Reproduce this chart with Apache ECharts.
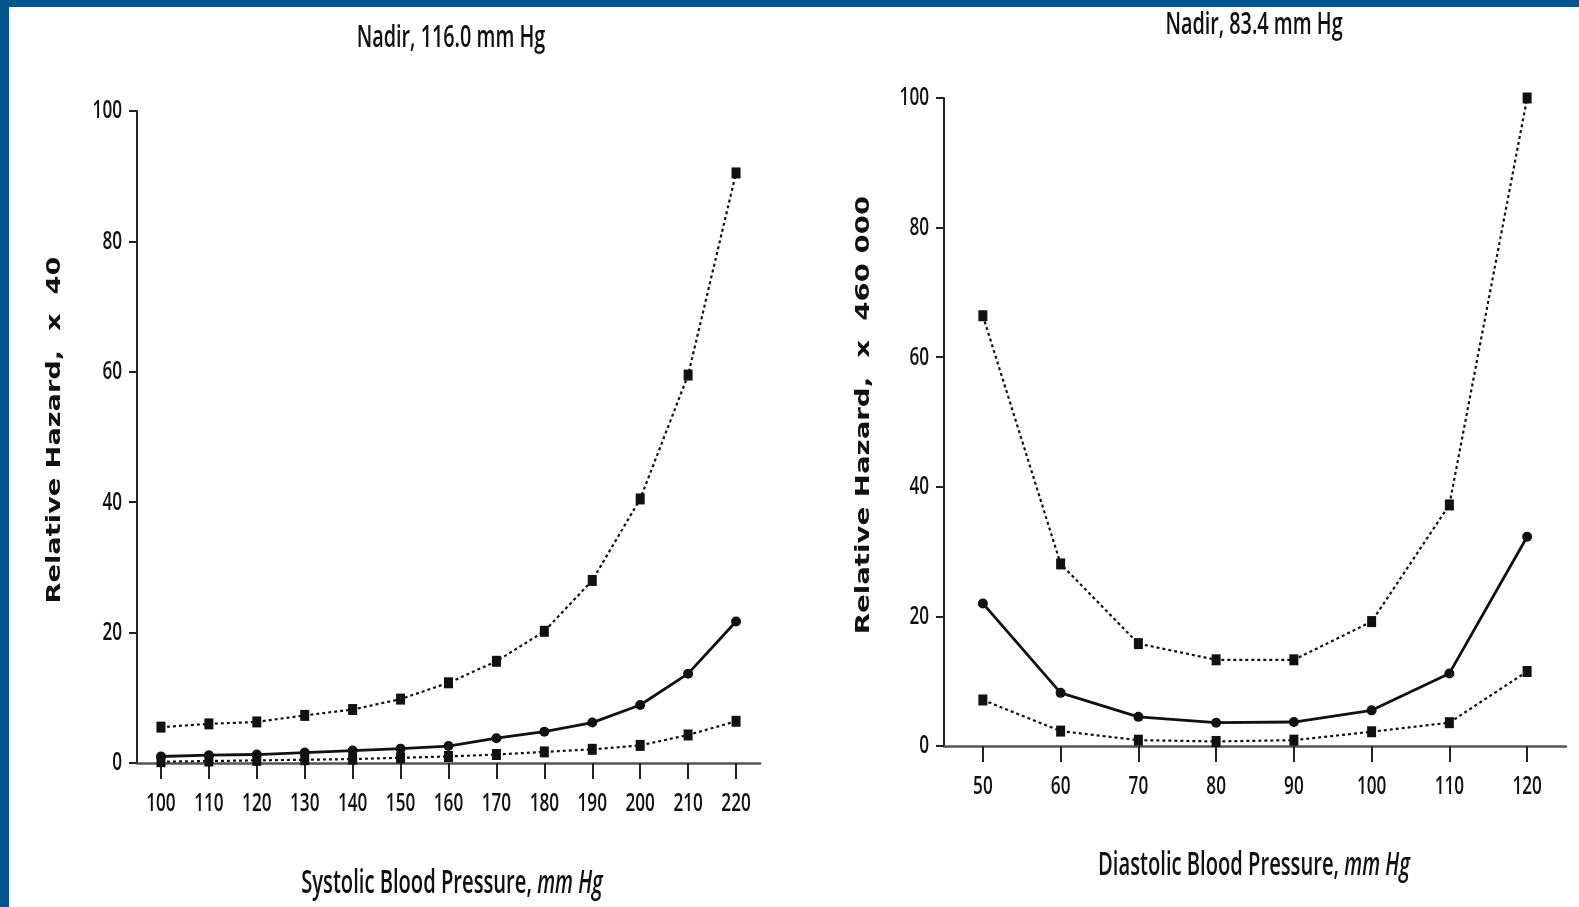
<!DOCTYPE html>
<html>
<head>
<meta charset="utf-8">
<script src="https://cdn.jsdelivr.net/npm/echarts@6/dist/echarts.min.js"></script>
<style>
html,body{margin:0;padding:0;background:#fff;}
#frame{position:absolute;left:0;top:0;width:1579px;height:907px;}
#topbar{position:absolute;left:0;top:0;width:1579px;height:7px;background:#005591;z-index:5;}
#leftbar{position:absolute;left:0;top:0;width:9px;height:907px;background:#005591;z-index:5;}
#chart{position:absolute;left:0;top:0;width:1579px;height:907px;}
</style>
</head>
<body>
<div id="frame">
<div id="chart"></div>
<div id="topbar"></div>
<div id="leftbar"></div>
</div>
<script>
// ---- data ----
const sysX = [100,110,120,130,140,150,160,170,180,190,200,210,220];
const sysUpper = [5.5,6.0,6.3,7.3,8.2,9.8,12.3,15.6,20.2,28.0,40.5,59.5,90.5];
const sysEst   = [1.0,1.2,1.3,1.6,1.9,2.2,2.6,3.8,4.8,6.2,8.9,13.7,21.7];
const sysLower = [0.2,0.3,0.4,0.5,0.6,0.8,1.0,1.3,1.7,2.1,2.7,4.3,6.4];

const diaX = [50,60,70,80,90,100,110,120];
const diaUpper = [66.4,28.1,15.8,13.3,13.3,19.2,37.2,100];
const diaEst   = [22.0,8.2,4.5,3.6,3.7,5.5,11.2,32.3];
const diaLower = [7.1,2.3,0.9,0.7,0.9,2.2,3.6,11.5];

const yTicks = [0,20,40,60,80,100];

const titleLeft = 'Nadir, 116.0 mm Hg';
const titleRight = 'Nadir, 83.4 mm Hg';
const xNameLeft = 'Systolic Blood Pressure, ';
const xNameRight = 'Diastolic Blood Pressure, ';
const xNameUnit = 'mm Hg';
const yNameLeft = 'Relative Hazard,  x  40';
const yNameRight = 'Relative Hazard,  x  460 000';

const condFont = "'Open Sans','Noto Sans','DejaVu Sans',sans-serif";
const boldFont = "'DejaVu Sans','Verdana',sans-serif";

function pairs(xs, ys){ return xs.map((x,i)=>[x, ys[i]]); }

function mkSeries(idx, xs, up, est, lo){
  const dash = {color:'#111', width:2.2, type:[3,3]};
  return [
    {type:'line', xAxisIndex:idx, yAxisIndex:idx, data:pairs(xs,up), symbol:'rect', symbolSize:[9,11], lineStyle:dash, itemStyle:{color:'#111'}, z:3},
    {type:'line', xAxisIndex:idx, yAxisIndex:idx, data:pairs(xs,est), symbol:'circle', symbolSize:10, lineStyle:{color:'#111', width:2.8}, itemStyle:{color:'#111'}, z:4},
    {type:'line', xAxisIndex:idx, yAxisIndex:idx, data:pairs(xs,lo), symbol:'rect', symbolSize:[9,11], lineStyle:dash, itemStyle:{color:'#111'}, z:3}
  ];
}

function xAx(idx, min, max, ticks){
  return {type:'value', gridIndex:idx, min:min, max:max,
    axisLine:{show:true, onZero:false, lineStyle:{color:'#555', width:2.5}},
    axisTick:{show:true, length:16, customValues:ticks, lineStyle:{color:'#222', width:2}},
    axisLabel:{show:false},
    splitLine:{show:false}
  };
}
function yAx(idx){
  return {type:'value', gridIndex:idx, min:0, max:100, interval:20,
    axisLine:{show:true, onZero:false, lineStyle:{color:'#222', width:2}},
    axisTick:{show:true, length:8, lineStyle:{color:'#222', width:2}},
    axisLabel:{show:false},
    splitLine:{show:false}
  };
}

const chart = echarts.init(document.getElementById('chart'), null, {renderer:'canvas'});
const option = {
  backgroundColor:'#fff',
  animation:false,
  grid:[
    {left:137, top:111, width:623, height:652},
    {left:944, top:98, width:622, height:648}
  ],
  xAxis:[ xAx(0,95,225,sysX), xAx(1,45,125,diaX) ],
  yAxis:[ yAx(0), yAx(1) ],
  series:[].concat(mkSeries(0, sysX, sysUpper, sysEst, sysLower), mkSeries(1, diaX, diaUpper, diaEst, diaLower))
};
chart.setOption(option);

// text elements (titles, axis names, tick labels) placed through the chart's own scales
const g = [];
function condText(x, y, text, size, sx, align){
  return {type:'text', x:x, y:y, scaleX:sx, scaleY:1, style:{text:text, fontFamily:condFont, fontWeight:600, fontSize:size, fill:'#111', align:align||'center', verticalAlign:'middle'}};
}
g.push(condText(451, 38, titleLeft, 30, 0.66));
g.push(condText(1254, 25, titleRight, 30, 0.66));
function nameText(x, y, main){
  return {type:'text', x:x, y:y, scaleX:0.63, style:{
    rich:{n:{fontFamily:condFont, fontWeight:600, fontSize:32, fill:'#111'}, i:{fontFamily:condFont, fontWeight:600, fontSize:32, fontStyle:'italic', fill:'#111'}},
    text:'{n|'+main+'}{i|'+xNameUnit+'}', align:'center', verticalAlign:'middle'}};
}
g.push(nameText(452, 884, xNameLeft));
g.push(nameText(1254, 866, xNameRight));
g.push({type:'text', x:55, y:430, rotation:Math.PI/2, scaleX:1.36, style:{text:yNameLeft, fontFamily:boldFont, fontWeight:'bold', fontSize:20, fill:'#111', align:'center', verticalAlign:'middle'}});
g.push({type:'text', x:864, y:415, rotation:Math.PI/2, scaleX:1.38, style:{text:yNameRight, fontFamily:boldFont, fontWeight:'bold', fontSize:20, fill:'#111', align:'center', verticalAlign:'middle'}});

function addTickLabels(gi, xs, xmin){
  xs.forEach(v=>{
    const p = chart.convertToPixel({gridIndex:gi}, [v, 0]);
    g.push(condText(p[0], p[1]+41, String(v), 26, 0.66));
  });
  yTicks.forEach(v=>{
    const p = chart.convertToPixel({gridIndex:gi}, [xmin, v]);
    g.push(condText(p[0]-15, p[1], String(v), 26, 0.66, 'right'));
  });
}
addTickLabels(0, sysX, 95);
addTickLabels(1, diaX, 45);
chart.setOption({graphic:g});
</script>
</body>
</html>
